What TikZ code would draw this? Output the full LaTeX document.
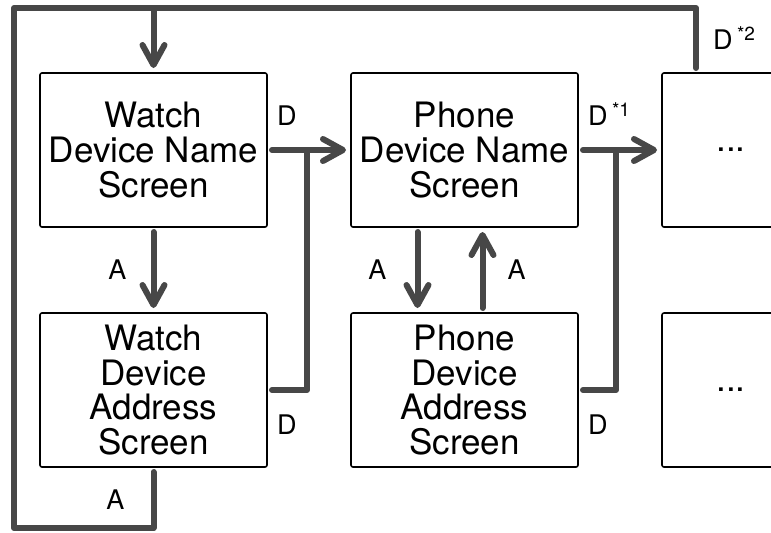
\documentclass[tikz,border=0pt]{standalone}
\usepackage{fontspec}
\setmainfont{TeX Gyre Heros}
\usetikzlibrary{positioning,arrows.meta}
\newcommand{\note}[1]{\,\raisebox{4.5pt}{\fontsize{9.5}{9.5}\selectfont #1}}

\begin{document}
\begin{tikzpicture}[node distance=38pt and 37pt,
  screen/.style={draw, line width=0.8pt, rounded corners=1pt, minimum width=113.5pt, minimum height=77pt,
    inner sep=2pt, outer sep=2.5pt, align=center, font=\fontsize{17.5}{17.3}\selectfont},
  flow/.style={draw=black!72, line width=3pt, line cap=round, line join=round},
  tip/.style={-{Straight Barb[length=10pt,width=11pt,round]}},
  lbl/.style={font=\fontsize{13.5}{14}\selectfont, inner sep=1pt}]
  \useasboundingbox (0,0) rectangle (385.5pt,-266pt);
  \clip (0,0) rectangle (385.5pt,-266pt);

  \node[screen] (wname) at (76.75pt,-75pt) {Watch\\Device Name\\Screen};
  \node[screen, below=of wname] (waddr) {Watch\\Device\\Address\\Screen};
  \node[screen, right=of wname] (pname) {Phone\\Device Name\\Screen};
  \node[screen, below=of pname] (paddr) {Phone\\Device\\Address\\Screen};
  \node[screen, right=of pname, minimum width=69pt] (next1) {...};
  \node[screen, right=of paddr, minimum width=69pt] (next2) {...};
  \coordinate (rail) at (7pt,-4pt);
  \coordinate (floor) at (7pt,-264pt);

  \draw[flow, tip] (wname) -- node[lbl, left=11pt] {A} (waddr);
  \draw[flow, tip] (wname) -- node[lbl, pos=0, above right=10pt and 0pt] {D} (pname);
  \draw[flow] (waddr.east) -| node[lbl, pos=0, below right=10pt and 0pt] {D} ([xshift=17.5pt]wname.east);
  \draw[flow, tip] ([xshift=-23.5pt]pname.south) -- node[lbl, left=13pt] {A} ([xshift=-23.5pt]paddr.north);
  \draw[flow, tip] ([xshift=9pt]paddr.north) -- node[lbl, right=10pt] {A} ([xshift=9pt]pname.south);
  \draw[flow, tip] (pname) -- node[lbl, pos=0, above right=10pt and 0pt] {D\note{*1}} (next1);
  \draw[flow] (paddr.east) -| node[lbl, pos=0, below right=10pt and 0pt] {D} ([xshift=16.5pt]pname.east);
  % loop back to the watch screens
  \draw[flow, tip] ([xshift=19.5pt]next1.north west) |- node[lbl, pos=0.25, right=6pt] {D\note{*2}} (wname.north |- rail) -- (wname.north);
  \draw[flow] (waddr.south) |- node[lbl, pos=0.25, left=12pt] {A} (floor) -- (rail) -- (wname.north |- rail);
\end{tikzpicture}
\end{document}
